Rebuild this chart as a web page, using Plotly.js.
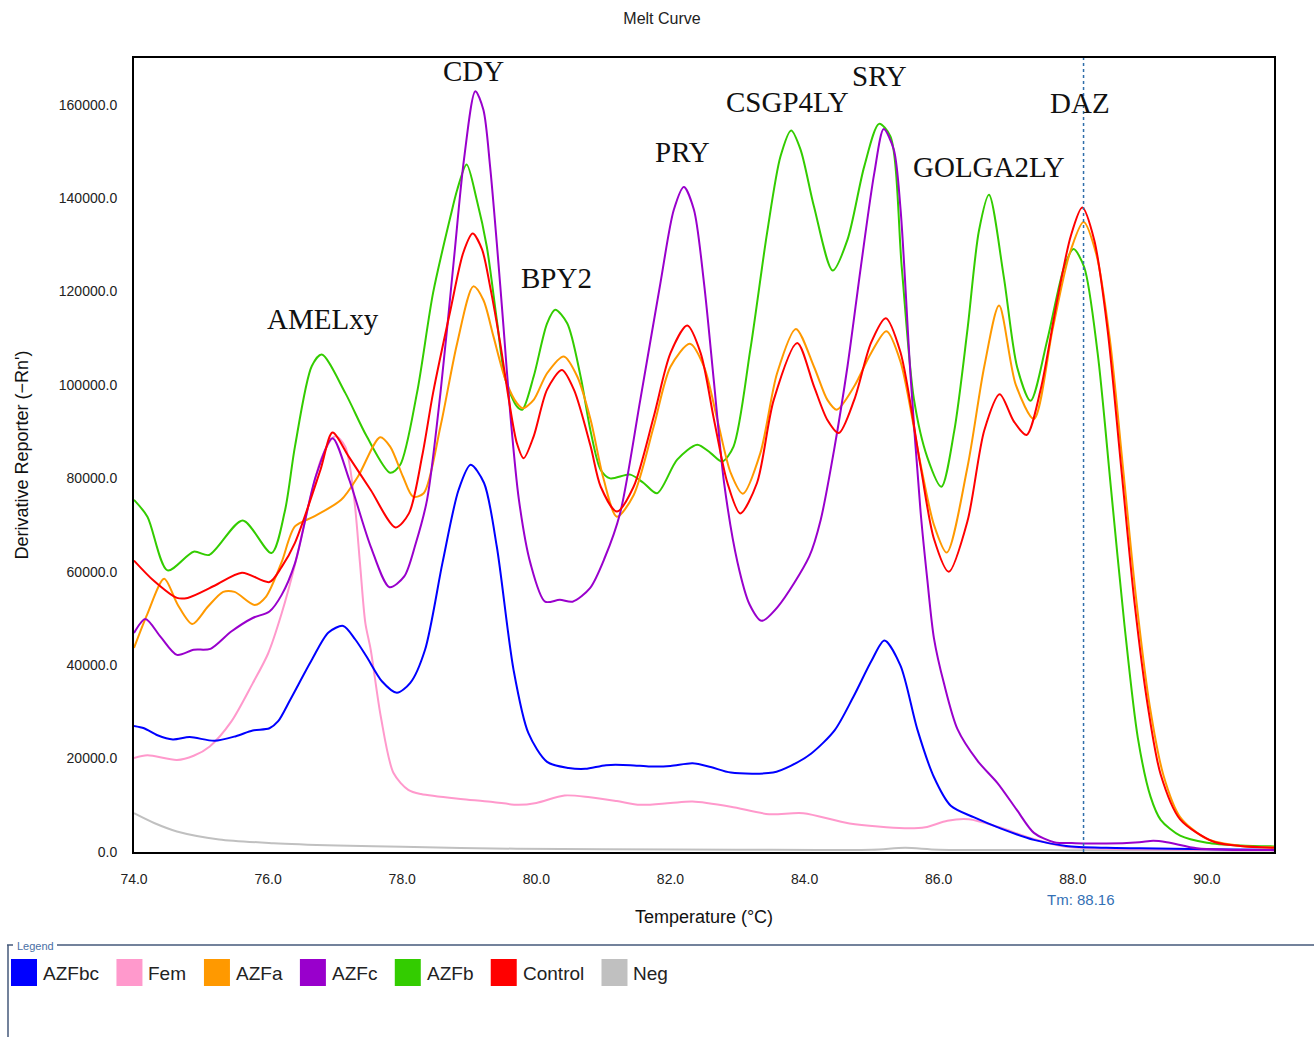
<!DOCTYPE html>
<html><head><meta charset="utf-8">
<script src="https://cdn.plot.ly/plotly-3.0.1.min.js"></script>
<style>html,body{margin:0;padding:0;background:#fff;} #chart{width:1314px;height:1037px;}</style>
</head><body><div id="chart"></div>
<script>
// ---- data (temperature °C, derivative reporter) ----
const seriesNames  = ['AZFbc','Fem','AZFa','AZFc','AZFb','Control','Neg'];
const seriesColors = ['#0000ff','#ff99cc','#ff9900','#9900cc','#33cc00','#ff0000','#c0c0c0'];

const azfbc = [[74.0,27000],[74.15,26500],[74.35,25000],[74.58,24100],[74.83,24600],[75.2,23800],[75.52,24800],[75.77,26000],[76.02,26500],[76.15,28000],[76.33,32600],[76.65,41100],[76.9,47000],[77.12,48400],[77.3,45500],[77.47,41800],[77.7,36500],[77.92,34100],[78.12,36200],[78.34,43300],[78.6,61900],[78.84,77500],[79.02,82900],[79.22,79000],[79.41,65400],[79.66,39000],[79.88,25500],[80.16,19300],[80.48,18000],[80.73,17800],[81.04,18600],[81.4,18600],[81.7,18300],[82.0,18400],[82.33,19000],[82.6,18200],[82.9,17000],[83.53,17000],[83.8,18500],[84.1,21100],[84.45,26100],[84.73,33300],[85.0,41000],[85.19,45300],[85.43,39900],[85.68,26300],[85.93,16000],[86.18,9900],[86.53,7400],[86.93,5000],[87.42,2600],[87.9,1300],[88.5,900],[89.0,800],[89.5,700],[90.0,600],[91.0,500]];

const fem = [[74.0,20100],[74.2,20700],[74.64,19700],[74.89,20600],[75.13,22600],[75.45,27900],[75.77,36100],[76.0,42500],[76.2,51000],[76.4,61500],[76.6,74000],[76.8,84500],[77.0,89000],[77.15,86800],[77.28,76100],[77.37,61800],[77.45,49000],[77.53,43300],[77.68,29000],[77.87,16900],[78.09,13300],[78.28,12400],[78.91,11300],[79.35,10700],[79.73,10100],[80.0,10500],[80.42,12100],[80.8,11700],[81.2,10900],[81.55,10100],[82.0,10500],[82.33,10800],[82.9,9700],[83.47,8100],[83.98,8300],[84.67,6100],[85.49,5100],[85.8,5300],[86.13,6700],[86.45,7000],[86.88,5400],[87.39,2900],[87.9,1100],[88.5,700],[89.5,500],[90.5,400],[91.0,400]];

const azfa = [[74.0,43700],[74.2,51000],[74.45,58500],[74.65,53000],[74.87,48800],[75.1,52500],[75.33,55700],[75.5,55700],[75.8,52900],[75.97,54700],[76.2,62000],[76.4,69700],[76.68,71800],[77.09,75400],[77.34,80400],[77.67,88800],[77.82,86800],[78.01,80400],[78.16,76100],[78.32,76800],[78.57,91100],[78.82,109000],[79.06,121100],[79.21,118200],[79.36,110400],[79.54,101100],[79.71,96100],[79.8,95000],[79.96,96800],[80.16,102500],[80.41,106100],[80.61,101800],[80.81,92500],[81.0,80000],[81.2,71800],[81.45,76400],[81.75,91100],[82.0,103900],[82.29,108800],[82.5,103900],[82.7,92500],[82.9,81100],[83.08,76700],[83.34,85400],[83.59,102500],[83.87,112000],[84.14,103900],[84.34,96800],[84.48,94700],[84.74,99700],[84.99,106800],[85.22,111500],[85.43,105000],[85.73,83000],[85.93,70000],[86.12,64100],[86.43,82500],[86.68,104000],[86.9,117000],[87.15,100000],[87.42,92700],[87.7,112000],[87.95,128000],[88.16,134900],[88.35,128000],[88.55,110000],[88.75,82000],[88.95,53500],[89.15,31000],[89.35,16500],[89.6,7500],[90.0,2800],[90.5,1300],[91.0,1000]];

const azfc = [[74.0,46900],[74.17,49900],[74.4,46000],[74.64,42200],[74.89,43300],[75.14,43500],[75.45,47200],[75.77,50100],[76.02,51500],[76.2,55000],[76.4,61800],[76.71,80400],[76.96,88600],[77.21,79700],[77.53,65400],[77.81,56700],[78.03,59000],[78.2,66000],[78.37,75400],[78.57,98300],[78.77,126800],[78.92,148200],[79.09,162900],[79.21,158900],[79.31,146800],[79.41,130400],[79.51,112500],[79.61,94000],[79.74,75400],[79.91,61900],[80.13,53600],[80.35,54000],[80.54,53600],[80.8,56500],[81.02,63000],[81.25,72600],[81.55,96800],[81.85,121800],[82.05,137500],[82.2,142400],[82.35,137500],[82.5,121800],[82.65,100400],[82.8,79000],[83.0,62000],[83.18,53000],[83.36,49500],[83.6,52500],[84.07,63300],[84.24,71100],[84.44,86100],[84.64,104000],[84.84,125400],[85.04,145400],[85.18,154800],[85.33,150400],[85.43,137800],[85.58,102000],[85.73,72800],[85.83,58300],[85.93,45700],[86.08,36000],[86.28,26300],[86.58,19500],[86.88,14700],[87.17,8900],[87.42,4100],[87.72,2100],[88.04,1900],[88.5,1800],[88.99,2100],[89.2,2400],[89.4,2100],[89.85,800],[90.3,500],[91.0,400]];

const azfb = [[74.0,75400],[74.2,71800],[74.5,60300],[74.89,64300],[75.12,63600],[75.62,71000],[76.05,64000],[76.25,73000],[76.4,86800],[76.65,104000],[76.8,106500],[77.15,98300],[77.47,89000],[77.82,81200],[77.97,82900],[78.22,98300],[78.46,119700],[78.72,136100],[78.82,141800],[78.96,147200],[79.11,139700],[79.26,129700],[79.41,114000],[79.54,101100],[79.71,95400],[79.79,94700],[79.96,101800],[80.16,113200],[80.28,116100],[80.46,113200],[80.66,101800],[80.81,90000],[80.96,81800],[81.1,80000],[81.4,80800],[81.6,79000],[81.8,76800],[82.1,84000],[82.4,87200],[82.6,85400],[82.77,83600],[82.94,86800],[83.19,107500],[83.44,132500],[83.64,148900],[83.8,154500],[83.94,150400],[84.14,138200],[84.42,124500],[84.64,131100],[84.89,146800],[85.11,155900],[85.28,153200],[85.45,125000],[85.63,97000],[85.83,84500],[86.04,78200],[86.23,90000],[86.43,112000],[86.6,133000],[86.75,140700],[86.97,123200],[87.17,103800],[87.37,96600],[87.62,109700],[87.87,125200],[88.01,129100],[88.17,125200],[88.37,106800],[88.57,77700],[88.77,48600],[88.97,24400],[89.16,11800],[89.31,6900],[89.6,3500],[90.0,2000],[90.5,1400],[91.0,1200]];

const control = [[74.0,62400],[74.3,58000],[74.64,54400],[74.8,54400],[75.2,57000],[75.61,59800],[76.02,57800],[76.2,61000],[76.4,66200],[76.78,81800],[76.96,89800],[77.2,84700],[77.53,77500],[77.9,69500],[78.1,72500],[78.3,85000],[78.46,98300],[78.72,116100],[78.91,128300],[79.05,132400],[79.19,129000],[79.31,121100],[79.46,109000],[79.59,96800],[79.71,87500],[79.81,84300],[79.96,89000],[80.16,99000],[80.38,103200],[80.56,99000],[80.81,86800],[80.96,78200],[81.2,72900],[81.45,78200],[81.75,93200],[82.0,106800],[82.25,112700],[82.45,106800],[82.65,92500],[82.85,79000],[83.04,72500],[83.29,79000],[83.54,96800],[83.89,109000],[84.14,99700],[84.34,92500],[84.51,89700],[84.74,96800],[84.99,109000],[85.21,114300],[85.43,107000],[85.73,82500],[85.93,67000],[86.15,60000],[86.43,70900],[86.68,90300],[86.91,98000],[87.12,92200],[87.31,89300],[87.52,99000],[87.77,118400],[87.97,131900],[88.14,138000],[88.32,131000],[88.52,111600],[88.72,82500],[88.92,53400],[89.12,31100],[89.31,16600],[89.6,7000],[90.1,2200],[90.5,1300],[91.0,900]];

const neg = [[74.0,8300],[74.3,6200],[74.64,4400],[75.27,2700],[76.08,1900],[77.03,1400],[78.0,1100],[79.7,700],[81.0,600],[83.0,500],[85.0,500],[85.5,900],[86.0,500],[88.0,400],[91.0,300]];

const seriesData = [azfbc, fem, azfa, azfc, azfb, control, neg];
const drawOrder  = [6, 1, 0, 4, 2, 3, 5];

const geneLabels = ['AMELxy','CDY','BPY2','PRY','CSGP4LY','SRY','GOLGA2LY','DAZ'];
const tmValue = 88.16;
const xTicks = [74,76,78,80,82,84,86,88,90];
const yTicks = [0,20000,40000,60000,80000,100000,120000,140000,160000];

// ---- layout config (positions / styles) ----
const geneLabelPos = [[76.818,114100],[79.063,167200],[80.30,123000],[82.172,149800],[83.738,160500],[85.11,166100],[86.75,146700],[88.107,160300]];
const PL = 134, PR = 1274, PT = 58, PB = 852;
const px2x = px => (px - PL) / (PR - PL);
const py2y = py => (PB - py) / (PB - PT);

const traces = drawOrder.map(i => ({
  type: 'scatter', mode: 'lines', name: seriesNames[i],
  x: seriesData[i].map(p => p[0]), y: seriesData[i].map(p => p[1]),
  line: {color: seriesColors[i], width: 2, shape: 'spline', smoothing: 0.8},
  hoverinfo: 'skip'
}));

const annotations = geneLabels.map((g, i) => ({
  xref: 'x', yref: 'y', x: geneLabelPos[i][0], y: geneLabelPos[i][1],
  text: g, showarrow: false, xanchor: 'center', yanchor: 'middle',
  font: {family: 'Liberation Serif, serif', size: 29, color: '#111'}
}));

annotations.push({
  xref: 'x', yref: 'paper', x: tmValue - 0.04, y: py2y(899), text: 'Tm: ' + tmValue.toFixed(2),
  showarrow: false, xanchor: 'center', yanchor: 'middle',
  font: {family: 'Liberation Sans, Arial, sans-serif', size: 15, color: '#3370b5'}
});

const shapes = [
  {type: 'line', xref: 'x', yref: 'y domain', x0: tmValue, x1: tmValue, y0: 0, y1: 1,
   line: {color: '#2f6eaa', width: 1.5, dash: 'dot'}},
  // legend group box
  {type: 'line', xref: 'paper', yref: 'paper', x0: px2x(7), x1: px2x(13), y0: py2y(945), y1: py2y(945), line: {color: '#44597a', width: 1.5}},
  {type: 'line', xref: 'paper', yref: 'paper', x0: px2x(57), x1: px2x(1314), y0: py2y(945), y1: py2y(945), line: {color: '#44597a', width: 1.5}},
  {type: 'line', xref: 'paper', yref: 'paper', x0: px2x(8), x1: px2x(8), y0: py2y(945), y1: py2y(1040), line: {color: '#44597a', width: 1.5}}
];
annotations.push({
  xref: 'paper', yref: 'paper', x: px2x(15), y: py2y(946), text: 'Legend', showarrow: false,
  xanchor: 'left', yanchor: 'middle', font: {family: 'Liberation Sans, Arial, sans-serif', size: 11, color: '#4a6fa5'}
});

const legendFont = '19px "Liberation Sans"';
const ctx = document.createElement('canvas').getContext('2d');
ctx.font = legendFont;
let cursor = 11;
seriesNames.forEach((n, i) => {
  shapes.push({type: 'rect', xref: 'paper', yref: 'paper', x0: px2x(cursor), x1: px2x(cursor + 26),
    y0: py2y(986), y1: py2y(959), fillcolor: seriesColors[i], line: {width: 0}});
  const tx = cursor + 30;
  annotations.push({xref: 'paper', yref: 'paper', x: px2x(tx), y: py2y(973), text: n, showarrow: false,
    xanchor: 'left', yanchor: 'middle', font: {family: 'Liberation Sans, Arial, sans-serif', size: 19, color: '#222'}});
  cursor = tx + ctx.measureText(n).width + 19.5;
});

const axisFont = {family: 'Liberation Sans, Arial, sans-serif', size: 14, color: '#222'};
const layout = {
  width: 1314, height: 1037,
  margin: {l: PL, r: 1314 - PR, t: PT, b: 1037 - PB},
  paper_bgcolor: '#fff', plot_bgcolor: '#fff',
  showlegend: false,
  title: {text: 'Melt Curve', font: {family: 'Liberation Sans, Arial, sans-serif', size: 16, color: '#222'},
          x: 662 / 1314, xref: 'container', xanchor: 'center', y: 1 - 18 / 1037, yref: 'container', yanchor: 'middle'},
  xaxis: {range: [74, 91], tickvals: xTicks, ticktext: xTicks.map(v => v.toFixed(1)),
          showgrid: false, zeroline: false, showline: true, linecolor: '#000', linewidth: 2, mirror: true,
          ticks: 'outside', ticklen: 13, tickcolor: 'rgba(0,0,0,0)', tickfont: axisFont,
          title: {text: 'Temperature (°C)', font: {family: 'Liberation Sans, Arial, sans-serif', size: 18, color: '#111'}, standoff: 25}},
  yaxis: {range: [0, 170000], tickvals: yTicks, ticktext: yTicks.map(v => v.toFixed(1)),
          showgrid: false, zeroline: false, showline: true, linecolor: '#000', linewidth: 2, mirror: true,
          ticks: 'outside', ticklen: 12, tickcolor: 'rgba(0,0,0,0)', tickfont: axisFont,
          title: {text: "Derivative Reporter (−Rn')", font: {family: 'Liberation Sans, Arial, sans-serif', size: 18, color: '#111'}, standoff: 25}},
  shapes: shapes, annotations: annotations
};

Plotly.newPlot('chart', traces, layout, {staticPlot: true, displayModeBar: false});
</script>
</body></html>
